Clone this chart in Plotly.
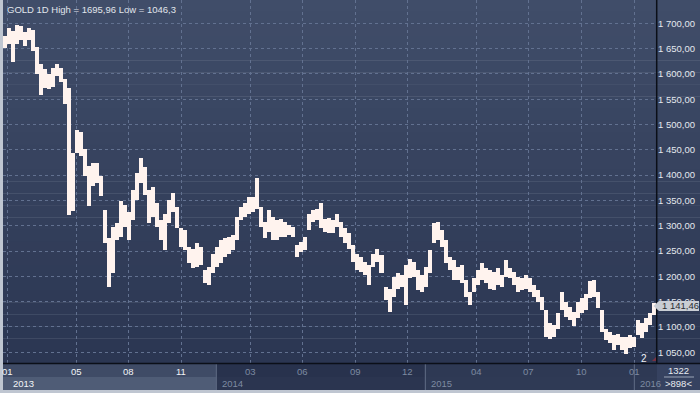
import plotly.graph_objects as go
import pandas as pd

# ---------------- data (weekly high / low) ----------------
FIRST_WEEK = "2012-12-24"
high = [1675, 1690, 1684, 1695.96, 1694, 1683, 1690, 1686, 1654, 1620,
        1610, 1600, 1612, 1620, 1612, 1590, 1572, 1444, 1490, 1486,
        1451, 1418, 1424, 1424, 1398, 1332, 1275, 1298, 1305, 1348,
        1341, 1328, 1370, 1404, 1433, 1417, 1371, 1377, 1344, 1311,
        1324, 1351, 1364, 1338, 1295, 1292, 1259, 1255, 1265, 1259,
        1213, 1219, 1245, 1259, 1272, 1275, 1278, 1282, 1318, 1338,
        1344, 1357, 1357, 1394, 1338, 1308, 1331, 1318, 1311, 1314,
        1308, 1301, 1298, 1262, 1268, 1278, 1324, 1331, 1334, 1344,
        1314, 1315, 1311, 1323, 1308, 1295, 1285, 1262, 1245, 1239,
        1229, 1222, 1245, 1255, 1242, 1180, 1176, 1199, 1206, 1203,
        1222, 1235, 1229, 1212, 1203, 1219, 1252, 1305, 1308, 1292,
        1272, 1239, 1232, 1219, 1222, 1193, 1170, 1196, 1212, 1226,
        1216, 1212, 1209, 1216, 1203, 1232, 1216, 1209, 1199, 1196,
        1203, 1196, 1183, 1173, 1160, 1133, 1107, 1104, 1127, 1170,
        1150, 1140, 1130, 1150, 1157, 1166, 1190, 1193, 1170, 1133,
        1097, 1091, 1084, 1087, 1081, 1081, 1084, 1081, 1114, 1107,
        1117, 1127, 1147]
low = [1652, 1660, 1624, 1660, 1668, 1656, 1668, 1645, 1600, 1558,
       1572, 1570, 1575, 1596, 1585, 1540, 1322, 1330, 1443, 1438,
       1398, 1339, 1378, 1385, 1358, 1266, 1180, 1206, 1272, 1278,
       1298, 1272, 1311, 1351, 1384, 1361, 1305, 1318, 1298, 1272,
       1252, 1305, 1328, 1295, 1259, 1252, 1226, 1216, 1219, 1222,
       1186, 1183, 1206, 1219, 1226, 1239, 1245, 1252, 1272, 1311,
       1318, 1324, 1328, 1334, 1298, 1275, 1288, 1272, 1272, 1278,
       1278, 1282, 1278, 1239, 1249, 1252, 1291, 1308, 1311, 1295,
       1288, 1285, 1285, 1298, 1278, 1265, 1255, 1229, 1213, 1209,
       1203, 1183, 1219, 1229, 1206, 1153, 1130, 1160, 1176, 1180,
       1143, 1196, 1199, 1173, 1170, 1180, 1206, 1265, 1272, 1259,
       1226, 1212, 1193, 1193, 1186, 1160, 1143, 1170, 1183, 1193,
       1186, 1176, 1173, 1183, 1180, 1199, 1196, 1183, 1170, 1173,
       1176, 1170, 1160, 1150, 1133, 1081, 1077, 1081, 1097, 1133,
       1120, 1114, 1101, 1117, 1127, 1133, 1157, 1160, 1137, 1091,
       1074, 1068, 1054, 1064, 1054, 1046.3, 1058, 1061, 1084, 1078,
       1091, 1104, 1124]
last_value = 1141.46
title_text = "GOLD 1D High = 1695,96 Low = 1046,3"

y_ticks = [1050, 1100, 1150, 1200, 1250, 1300, 1350, 1400, 1450, 1500,
           1550, 1600, 1650, 1700]
grid_months = ["2013-01-01", "2013-05-01", "2013-08-01", "2013-11-01",
               "2014-03-01", "2014-06-01", "2014-09-01", "2014-12-01",
               "2015-04-01", "2015-07-01", "2015-10-01", "2016-01-01"]
month_labels = ["01", "05", "08", "11", "03", "06", "09", "12",
                "04", "07", "10", "01"]
year_starts = ["2012-12-24", "2014-01-01", "2015-01-01", "2016-01-01"]
year_ends = ["2014-01-01", "2015-01-01", "2016-01-01", "2016-02-10"]
year_labels = ["2013", "2014", "2015", "2016"]
footer_top = "1322"
footer_bottom = ">898<"


def fmt(v):
    return f"{v:,.2f}".replace(",", " ").replace(".", ",")


weeks = pd.date_range(FIRST_WEEK, periods=len(high), freq="7D")
xmid = weeks + pd.Timedelta(hours=84)
span = [h - l for h, l in zip(high, low)]

# ---------------- geometry helpers (pixels -> paper) ----------------
L, R, T, B = 3, 657, 0, 363
W, H = 700, 393


def xp(px):
    return (px - L) / (R - L)


def yp(py):
    return (B - py) / (B - T)


def mix(c1, c2, t):
    a = [int(c1[i:i + 2], 16) for i in (1, 3, 5)]
    b = [int(c2[i:i + 2], 16) for i in (1, 3, 5)]
    return "#" + "".join(f"{round(a[i] + (b[i] - a[i]) * t):02x}" for i in range(3))


fig = go.Figure()
fig.add_trace(go.Bar(
    x=xmid, y=span, base=low,
    width=7 * 86400000,
    marker=dict(color="#fff3ee", line=dict(width=0)),
    hoverinfo="skip", showlegend=False,
))

shapes = []
# vertical gradient background (plot + right axis area)
nb = 30
for i in range(nb):
    y0 = T + (B - T) * i / nb
    y1 = T + (B - T) * (i + 1) / nb
    shapes.append(dict(type="rect", xref="paper", yref="paper",
                       x0=xp(L), x1=xp(W), y0=yp(y1), y1=yp(y0) + 0.001,
                       fillcolor=mix("#404d69", "#2b3652", i / (nb - 1)),
                       line=dict(width=0), layer="below"))

# bottom time panel
seg_month = ["#3f4b66", "#28324d", "#2e3954", "#2e3954"]
seg_year = ["#4f5c76", "#2b3550", "#2f3a55", "#2f3a55"]
for i in range(len(year_labels)):
    shapes.append(dict(type="rect", xref="x", yref="paper",
                       x0=year_starts[i], x1=year_ends[i],
                       y0=yp(377), y1=yp(363), fillcolor=seg_month[i],
                       line=dict(width=0), layer="below"))
    shapes.append(dict(type="rect", xref="x", yref="paper",
                       x0=year_starts[i], x1=year_ends[i],
                       y0=yp(390), y1=yp(377), fillcolor=seg_year[i],
                       line=dict(width=0), layer="below"))
    if i > 0:
        shapes.append(dict(type="line", xref="x", yref="paper",
                           x0=year_starts[i], x1=year_starts[i],
                           y0=yp(390), y1=yp(363),
                           line=dict(color="#5b6780", width=1), layer="below"))
# corner box
shapes.append(dict(type="rect", xref="paper", yref="paper",
                   x0=xp(657), x1=xp(700), y0=yp(390), y1=yp(363),
                   fillcolor="#364260", line=dict(width=0), layer="below"))
shapes.append(dict(type="line", xref="paper", yref="paper",
                   x0=xp(664), x1=xp(694), y0=yp(377), y1=yp(377),
                   line=dict(color="#9aa4b6", width=1), layer="above"))
# axis borders
shapes.append(dict(type="line", xref="paper", yref="paper",
                   x0=xp(L), x1=xp(700), y0=yp(363.5), y1=yp(363.5),
                   line=dict(color="#0b0f18", width=1.5), layer="above"))
shapes.append(dict(type="line", xref="paper", yref="paper",
                   x0=xp(656.7), x1=xp(656.7), y0=yp(363), y1=yp(0),
                   line=dict(color="#0b0f18", width=1.5), layer="above"))
# last value marker
yv = 23.3 + (1700 - last_value) * 0.506
shapes.append(dict(type="path", xref="paper", yref="paper",
                   path=(f"M {xp(653.5)},{yp(yv)} L {xp(659)},{yp(yv - 5)} "
                         f"L {xp(699)},{yp(yv - 5)} L {xp(699)},{yp(yv + 5)} "
                         f"L {xp(659)},{yp(yv + 5)} Z"),
                   fillcolor="#c9cdd4", line=dict(width=0), layer="above"))
# small red marker
shapes.append(dict(type="path", xref="paper", yref="paper",
                   path=f"M {xp(652)},{yp(361)} L {xp(656)},{yp(361)} L {xp(656)},{yp(357)} Z",
                   fillcolor="#7a3040", line=dict(width=0), layer="above"))

font = "Liberation Sans, Arial, sans-serif"
ann = []
ann.append(dict(text=title_text, xref="paper", yref="paper", x=xp(5), y=yp(2),
                xanchor="left", yanchor="top", showarrow=False,
                font=dict(family=font, size=9.5, color="#e1e5ec")))
for i, (d, lab) in enumerate(zip(grid_months, month_labels)):
    bright = d < "2014-01-01"
    ann.append(dict(text=lab, xref="x", yref="paper", x=d, y=yp(371),
                    xanchor="center", yanchor="middle", showarrow=False,
                    font=dict(family=font, size=9.5,
                              color="#f2f4f7" if bright else "#7d8aa1")))
for i, lab in enumerate(year_labels):
    start = pd.Timestamp(year_starts[i]) + pd.Timedelta(days=6 if i else 14)
    ann.append(dict(text=lab, xref="x", yref="paper", x=start, y=yp(383),
                    xanchor="left", yanchor="middle", showarrow=False,
                    font=dict(family=font, size=9.5,
                              color="#f2f4f7" if i == 0 else "#7d8aa1")))
ann.append(dict(text=footer_top, xref="paper", yref="paper", x=xp(678), y=yp(370.5),
                xanchor="center", yanchor="middle", showarrow=False,
                font=dict(family=font, size=9.5, color="#e8ebf0")))
ann.append(dict(text=footer_bottom, xref="paper", yref="paper", x=xp(678), y=yp(383),
                xanchor="center", yanchor="middle", showarrow=False,
                font=dict(family=font, size=9.5, color="#e8ebf0")))
ann.append(dict(text=fmt(last_value), xref="paper", yref="paper", x=xp(659.5), y=yp(yv),
                xanchor="left", yanchor="middle", showarrow=False,
                font=dict(family=font, size=9.5, color="#2a2d33")))
ann.append(dict(text="2", xref="paper", yref="paper", x=xp(644), y=yp(358),
                xanchor="center", yanchor="middle", showarrow=False,
                font=dict(family=font, size=10, color="#f0f2f6")))

x0_date = pd.Timestamp("2013-01-01") + pd.Timedelta(days=(L - 7.3) / 0.5726)
x1_date = pd.Timestamp("2013-01-01") + pd.Timedelta(days=(R - 7.3) / 0.5726)
y_lo = 1050 - (B - 352.3) / 0.506
y_hi = 1700 + (23.3 - T) / 0.506

fig.update_layout(
    width=W, height=H,
    margin=dict(l=L, r=W - R, t=T, b=H - B),
    paper_bgcolor="#bfc6d1",
    plot_bgcolor="rgba(0,0,0,0)",
    bargap=0,
    shapes=shapes,
    annotations=ann,
    showlegend=False,
    xaxis=dict(type="date", range=[x0_date, x1_date], tickvals=grid_months,
               showticklabels=False, ticks="", showgrid=True,
               gridcolor="#627190", griddash="3px,3px", gridwidth=1,
               zeroline=False, showline=False, fixedrange=True),
    yaxis=dict(range=[y_lo, y_hi], side="right", tickvals=y_ticks,
               ticktext=[fmt(v) for v in y_ticks], ticks="",
               showgrid=True, gridcolor="#627190", griddash="3px,3px",
               gridwidth=1, zeroline=False, showline=False,
               tickfont=dict(family=font, size=9.5, color="#e4e8ee"),
               fixedrange=True),
)

fig.write_html(
    "out.html",
    config={"displayModeBar": False, "staticPlot": True},
    post_script="document.body.style.margin='0';document.body.style.overflow='hidden';",
)
